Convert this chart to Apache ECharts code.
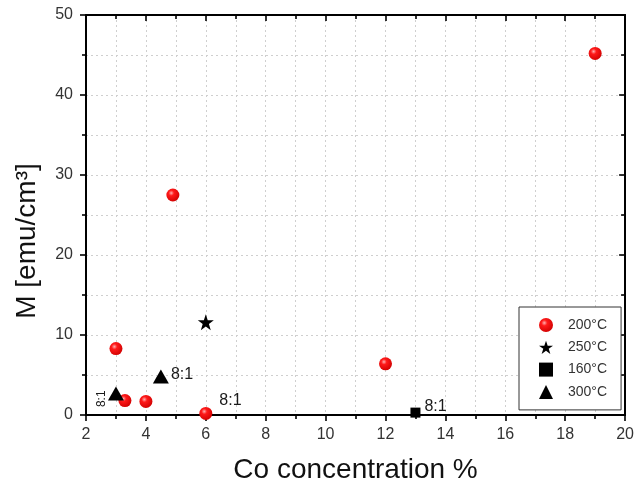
<!DOCTYPE html>
<html><head><meta charset="utf-8">
<script src="https://cdn.jsdelivr.net/npm/echarts@6/dist/echarts.min.js"></script>
<style>html,body{margin:0;padding:0;background:#fff}#c{width:637px;height:491px}</style>
</head><body><div id="c"></div>
<script>
const seriesNames = ['200°C', '250°C', '160°C', '300°C'];
const x200 = [3, 3.3, 4, 4.9, 6, 12, 19];
const y200 = [8.3, 1.8, 1.7, 27.5, 0.2, 6.4, 45.2];
const x250 = [6];
const y250 = [11.6];
const x160 = [13];
const y160 = [0.3];
const x300 = [3, 4.5];
const y300 = [2.7, 4.8];
// ratio annotations: [series, index, text]
const notes = [['200°C', 4, '8:1'], ['160°C', 0, '8:1'], ['300°C', 0, '8:1'], ['300°C', 1, '8:1']];
const xTicks = [2, 20, 2];
const yTicks = [0, 50, 10];

const labelStyles = {
  '200°C|4': {show: true, position: 'right', offset: [2, -13], fontSize: 16, color: '#1a1a1a'},
  '160°C|0': {show: true, position: 'right', offset: [-1, -6], fontSize: 16, color: '#1a1a1a'},
  '300°C|0': {show: true, position: 'left', rotate: 90, offset: [3, -1], fontSize: 12, color: '#1a1a1a', distance: 5},
  '300°C|1': {show: true, position: 'right', offset: [-3, -2], fontSize: 16, color: '#1a1a1a'}
};
function build(name, xs, ys) {
  return xs.map((x, i) => {
    const item = {value: [x, ys[i]]};
    const n = notes.find(d => d[0] === name && d[1] === i);
    if (n) item.label = Object.assign({formatter: n[2]}, labelStyles[name + '|' + i]);
    return item;
  });
}
const redGrad = {type: 'radial', x: 0.38, y: 0.35, r: 0.7,
  colorStops: [{offset: 0, color: '#ffb0b0'}, {offset: 0.3, color: '#ff1a1a'}, {offset: 1, color: '#d00000'}]};

const chart = echarts.init(document.getElementById('c'));
const axisLine = {show: true, onZero: false, lineStyle: {color: '#000', width: 2}};
const tickStyle = {color: '#000', width: 1.6};
const gridStyle = {color: '#cfcfcf', type: [2, 3], width: 1};
chart.setOption({
  animation: false,
  textStyle: {fontFamily: 'Liberation Sans, Arial, sans-serif'},
  grid: {left: 86, right: 8, top: 15, bottom: 76},
  legend: {
    data: seriesNames, orient: 'vertical', left: 519, top: 307,
    padding: [11, 14, 11, 20], itemWidth: 14, itemHeight: 14, itemGap: 8.3,
    borderColor: '#333', borderWidth: 1, backgroundColor: '#fff',
    textStyle: {fontSize: 14, color: '#333', padding: [0, 0, 0, 10]}
  },
  xAxis: [{
    type: 'value', min: xTicks[0], max: xTicks[1], interval: xTicks[2],
    name: 'Co concentration %', nameLocation: 'middle', nameGap: 41,
    nameTextStyle: {fontSize: 28, color: '#111'},
    axisLine,
    axisTick: {show: true, inside: false, length: 6, lineStyle: tickStyle},
    minorTick: {show: true, splitNumber: 2, length: 4, lineStyle: tickStyle},
    axisLabel: {fontSize: 16, color: '#333', margin: 12},
    splitLine: {show: true, lineStyle: gridStyle},
    minorSplitLine: {show: true, lineStyle: gridStyle}
  }, {
    type: 'value', position: 'top', min: xTicks[0], max: xTicks[1], interval: xTicks[2],
    axisLine,
    axisTick: {show: true, inside: true, length: 6, lineStyle: tickStyle},
    minorTick: {show: true, splitNumber: 2, length: 4, lineStyle: tickStyle},
    axisLabel: {show: false}, splitLine: {show: false}
  }],
  yAxis: [{
    type: 'value', min: yTicks[0], max: yTicks[1], interval: yTicks[2],
    name: 'M [emu/cm³]', nameLocation: 'middle', nameGap: 45,
    nameTextStyle: {fontSize: 28, color: '#111', padding: [0, 52, 0, 0]},
    axisLine,
    axisTick: {show: true, inside: false, length: 6, lineStyle: tickStyle},
    minorTick: {show: true, splitNumber: 2, length: 4, lineStyle: tickStyle},
    axisLabel: {fontSize: 16, color: '#333', margin: 13},
    splitLine: {show: true, lineStyle: gridStyle},
    minorSplitLine: {show: true, lineStyle: gridStyle}
  }, {
    type: 'value', position: 'right', min: yTicks[0], max: yTicks[1], interval: yTicks[2],
    axisLine,
    axisTick: {show: true, inside: true, length: 6, lineStyle: tickStyle},
    minorTick: {show: true, splitNumber: 2, length: 4, lineStyle: tickStyle},
    axisLabel: {show: false}, splitLine: {show: false}
  }],
  series: [
    {name: seriesNames[0], type: 'scatter', symbol: 'circle', symbolSize: 13,
     itemStyle: {color: redGrad, opacity: 1}, data: build(seriesNames[0], x200, y200)},
    {name: seriesNames[1], type: 'scatter', symbol: 'path://M50,0 L61.8,35.3 L99,35.3 L69,57.3 L80.4,92.7 L50,70.8 L19.6,92.7 L31,57.3 L1,35.3 L38.2,35.3 Z',
     symbolSize: 16, itemStyle: {color: '#000', opacity: 1}, data: build(seriesNames[1], x250, y250)},
    {name: seriesNames[2], type: 'scatter', symbol: 'rect', symbolSize: 10,
     itemStyle: {color: '#000', opacity: 1}, data: build(seriesNames[2], x160, y160)},
    {name: seriesNames[3], type: 'scatter', symbol: 'triangle', symbolSize: [16, 14],
     itemStyle: {color: '#000', opacity: 1}, data: build(seriesNames[3], x300, y300)}
  ]
});
</script></body></html>
